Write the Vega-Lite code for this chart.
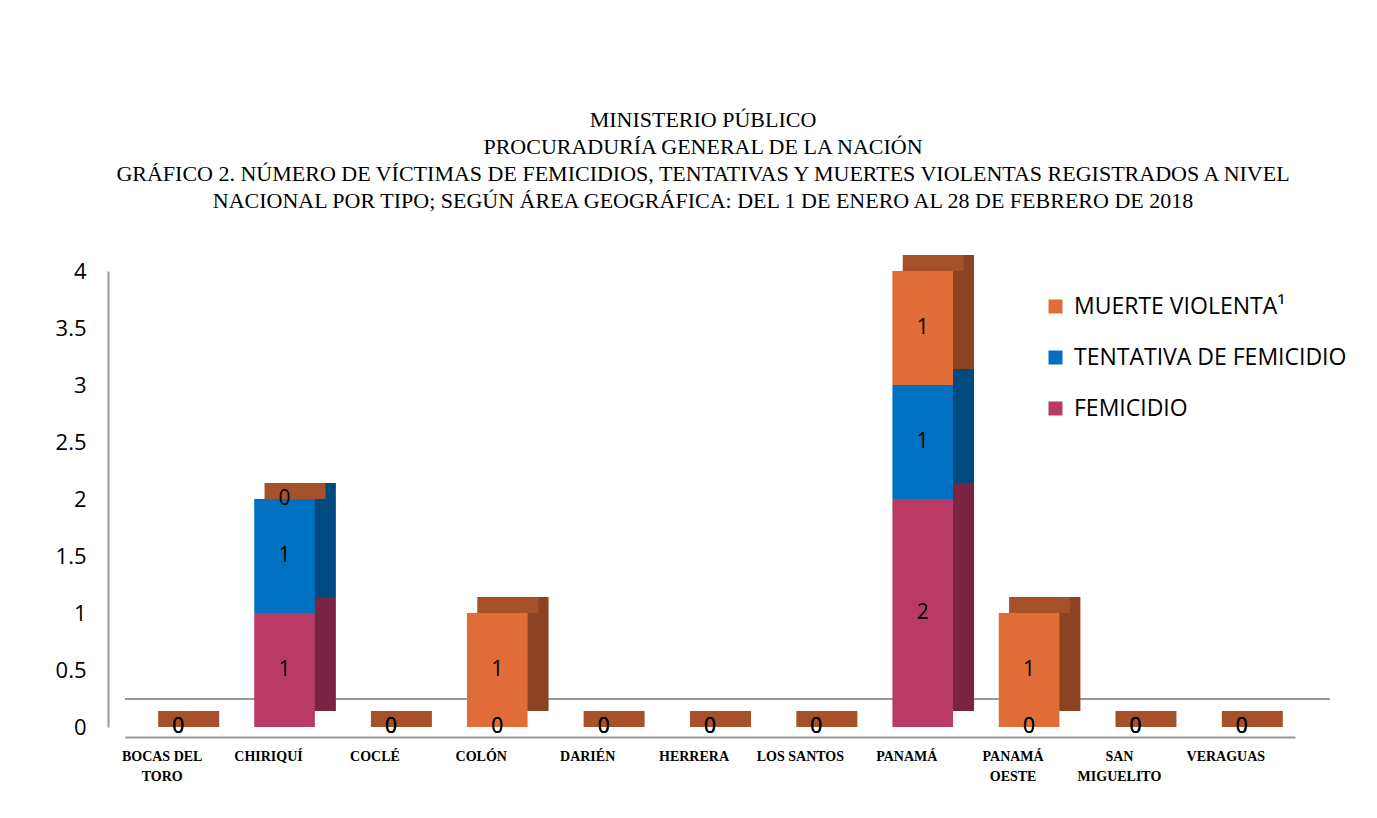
{
  "$schema": "https://vega.github.io/schema/vega-lite/v6.json",
  "width": 1170,
  "height": 456,
  "autosize": {"type": "none"},
  "padding": {"left": 125, "top": 271, "right": 82, "bottom": 91},
  "background": "white",
  "config": {"view": {"stroke": null}},
  "title": {
    "text": [
      "MINISTERIO PÚBLICO",
      "PROCURADURÍA GENERAL DE LA NACIÓN",
      "GRÁFICO 2. NÚMERO DE VÍCTIMAS DE FEMICIDIOS, TENTATIVAS Y MUERTES VIOLENTAS REGISTRADOS A NIVEL",
      "NACIONAL POR TIPO; SEGÚN ÁREA GEOGRÁFICA:  DEL 1 DE ENERO  AL  28 DE FEBRERO  DE 2018"
    ],
    "font": "Liberation Serif",
    "fontSize": 22,
    "fontWeight": "normal",
    "color": "#000000",
    "lineHeight": 27,
    "anchor": "middle",
    "frame": "group",
    "offset": 42,
    "dx": -7
  },
  "resolve": {"scale": {"color": "independent"}, "legend": {"color": "independent"}},
  "data": {
    "values": [
      {"category": "BOCAS DEL TORO", "serie": "FEMICIDIO", "orden": 1, "value": 0},
      {"category": "BOCAS DEL TORO", "serie": "TENTATIVA DE FEMICIDIO", "orden": 2, "value": 0},
      {"category": "BOCAS DEL TORO", "serie": "MUERTE VIOLENTA¹", "orden": 3, "value": 0},
      {"category": "CHIRIQUÍ", "serie": "FEMICIDIO", "orden": 1, "value": 1},
      {"category": "CHIRIQUÍ", "serie": "TENTATIVA DE FEMICIDIO", "orden": 2, "value": 1},
      {"category": "CHIRIQUÍ", "serie": "MUERTE VIOLENTA¹", "orden": 3, "value": 0},
      {"category": "COCLÉ", "serie": "FEMICIDIO", "orden": 1, "value": 0},
      {"category": "COCLÉ", "serie": "TENTATIVA DE FEMICIDIO", "orden": 2, "value": 0},
      {"category": "COCLÉ", "serie": "MUERTE VIOLENTA¹", "orden": 3, "value": 0},
      {"category": "COLÓN", "serie": "FEMICIDIO", "orden": 1, "value": 0},
      {"category": "COLÓN", "serie": "TENTATIVA DE FEMICIDIO", "orden": 2, "value": 0},
      {"category": "COLÓN", "serie": "MUERTE VIOLENTA¹", "orden": 3, "value": 1},
      {"category": "DARIÉN", "serie": "FEMICIDIO", "orden": 1, "value": 0},
      {"category": "DARIÉN", "serie": "TENTATIVA DE FEMICIDIO", "orden": 2, "value": 0},
      {"category": "DARIÉN", "serie": "MUERTE VIOLENTA¹", "orden": 3, "value": 0},
      {"category": "HERRERA", "serie": "FEMICIDIO", "orden": 1, "value": 0},
      {"category": "HERRERA", "serie": "TENTATIVA DE FEMICIDIO", "orden": 2, "value": 0},
      {"category": "HERRERA", "serie": "MUERTE VIOLENTA¹", "orden": 3, "value": 0},
      {"category": "LOS SANTOS", "serie": "FEMICIDIO", "orden": 1, "value": 0},
      {"category": "LOS SANTOS", "serie": "TENTATIVA DE FEMICIDIO", "orden": 2, "value": 0},
      {"category": "LOS SANTOS", "serie": "MUERTE VIOLENTA¹", "orden": 3, "value": 0},
      {"category": "PANAMÁ", "serie": "FEMICIDIO", "orden": 1, "value": 2},
      {"category": "PANAMÁ", "serie": "TENTATIVA DE FEMICIDIO", "orden": 2, "value": 1},
      {"category": "PANAMÁ", "serie": "MUERTE VIOLENTA¹", "orden": 3, "value": 1},
      {"category": "PANAMÁ OESTE", "serie": "FEMICIDIO", "orden": 1, "value": 0},
      {"category": "PANAMÁ OESTE", "serie": "TENTATIVA DE FEMICIDIO", "orden": 2, "value": 0},
      {"category": "PANAMÁ OESTE", "serie": "MUERTE VIOLENTA¹", "orden": 3, "value": 1},
      {"category": "SAN MIGUELITO", "serie": "FEMICIDIO", "orden": 1, "value": 0},
      {"category": "SAN MIGUELITO", "serie": "TENTATIVA DE FEMICIDIO", "orden": 2, "value": 0},
      {"category": "SAN MIGUELITO", "serie": "MUERTE VIOLENTA¹", "orden": 3, "value": 0},
      {"category": "VERAGUAS", "serie": "FEMICIDIO", "orden": 1, "value": 0},
      {"category": "VERAGUAS", "serie": "TENTATIVA DE FEMICIDIO", "orden": 2, "value": 0},
      {"category": "VERAGUAS", "serie": "MUERTE VIOLENTA¹", "orden": 3, "value": 0}
    ]
  },
  "layer": [
    {
      "mark": {"type": "rule", "color": "#999999", "strokeWidth": 2, "xOffset": 35, "x2Offset": 35, "yOffset": -28},
      "encoding": {"y": {"datum": 0, "type": "quantitative", "scale": {"domain": [0, 4]}}}
    },
    {
      "mark": {"type": "bar", "xOffset": 21, "yOffset": -16},
      "encoding": {
        "x": {
          "field": "category",
          "type": "nominal",
          "sort": ["BOCAS DEL TORO", "CHIRIQUÍ", "COCLÉ", "COLÓN", "DARIÉN", "HERRERA", "LOS SANTOS", "PANAMÁ", "PANAMÁ OESTE", "SAN MIGUELITO", "VERAGUAS"],
          "scale": {"paddingInner": 0.43, "paddingOuter": 0.215},
          "axis": {
            "title": null,
            "labelAngle": 0,
            "ticks": false,
            "tickSize": 0,
            "offset": 10,
            "domainColor": "#999999",
            "domainWidth": 2,
            "labelFont": "Liberation Serif",
            "labelFontWeight": "bold",
            "labelFontSize": 14,
            "labelColor": "#000000",
            "labelPadding": 12,
            "labelOffset": -16,
            "labelLineHeight": 20,
            "labelBaseline": "top",
            "labelExpr": "datum.value == 'BOCAS DEL TORO' ? ['BOCAS DEL', 'TORO'] : datum.value == 'PANAMÁ OESTE' ? ['PANAMÁ', 'OESTE'] : datum.value == 'SAN MIGUELITO' ? ['SAN', 'MIGUELITO'] : datum.value"
          }
        },
        "y": {"field": "value", "type": "quantitative", "stack": "zero", "scale": {"domain": [0, 4]}},
        "order": {"field": "orden", "type": "quantitative"},
        "color": {
          "field": "serie",
          "type": "nominal",
          "scale": {"domain": ["MUERTE VIOLENTA¹", "TENTATIVA DE FEMICIDIO", "FEMICIDIO"], "range": ["#8C4322", "#004A80", "#7A2443"]},
          "legend": null
        }
      }
    },
    {
      "transform": [{"aggregate": [{"op": "sum", "field": "value", "as": "total"}], "groupby": ["category"]}],
      "mark": {"type": "tick", "thickness": 16, "size": 61, "xOffset": 10.5, "yOffset": -8, "color": "#A6512A", "opacity": 1},
      "encoding": {
        "x": {"field": "category", "type": "nominal", "sort": ["BOCAS DEL TORO", "CHIRIQUÍ", "COCLÉ", "COLÓN", "DARIÉN", "HERRERA", "LOS SANTOS", "PANAMÁ", "PANAMÁ OESTE", "SAN MIGUELITO", "VERAGUAS"]},
        "y": {"field": "total", "type": "quantitative"}
      }
    },
    {
      "mark": {"type": "bar"},
      "encoding": {
        "x": {"field": "category", "type": "nominal", "sort": ["BOCAS DEL TORO", "CHIRIQUÍ", "COCLÉ", "COLÓN", "DARIÉN", "HERRERA", "LOS SANTOS", "PANAMÁ", "PANAMÁ OESTE", "SAN MIGUELITO", "VERAGUAS"]},
        "y": {
          "field": "value",
          "type": "quantitative",
          "stack": "zero",
          "scale": {"domain": [0, 4]},
          "axis": {
            "title": null,
            "values": [0, 0.5, 1, 1.5, 2, 2.5, 3, 3.5, 4],
            "format": ".2~f",
            "grid": false,
            "ticks": false,
            "tickSize": 0,
            "offset": 17,
            "domainColor": "#999999",
            "domainWidth": 2,
            "labelFont": "Open Sans",
            "labelFontSize": 22,
            "labelColor": "#000000",
            "labelPadding": 22
          }
        },
        "order": {"field": "orden", "type": "quantitative"},
        "color": {
          "field": "serie",
          "type": "nominal",
          "scale": {"domain": ["MUERTE VIOLENTA¹", "TENTATIVA DE FEMICIDIO", "FEMICIDIO"], "range": ["#E06C38", "#0070C0", "#B93B65"]},
          "legend": {
            "title": null,
            "orient": "none",
            "legendX": 919,
            "legendY": 24,
            "symbolType": "square",
            "symbolSize": 196,
            "symbolStrokeWidth": 0,
            "labelFont": "Open Sans",
            "labelFontSize": 23,
            "labelColor": "#000000",
            "labelOffset": 7,
            "rowPadding": 27,
            "labelLimit": 400
          }
        }
      }
    },
    {
      "transform": [
        {"stack": "value", "groupby": ["category"], "sort": [{"field": "orden"}], "as": ["y0", "y1"]},
        {"calculate": "(datum.y0 + datum.y1) / 2", "as": "mid"}
      ],
      "mark": {"type": "text", "font": "Open Sans", "fontSize": 21, "color": "#000000", "baseline": "middle", "align": "center"},
      "encoding": {
        "x": {"field": "category", "type": "nominal", "sort": ["BOCAS DEL TORO", "CHIRIQUÍ", "COCLÉ", "COLÓN", "DARIÉN", "HERRERA", "LOS SANTOS", "PANAMÁ", "PANAMÁ OESTE", "SAN MIGUELITO", "VERAGUAS"]},
        "y": {"field": "mid", "type": "quantitative"},
        "text": {"field": "value", "type": "quantitative"}
      }
    }
  ]
}
